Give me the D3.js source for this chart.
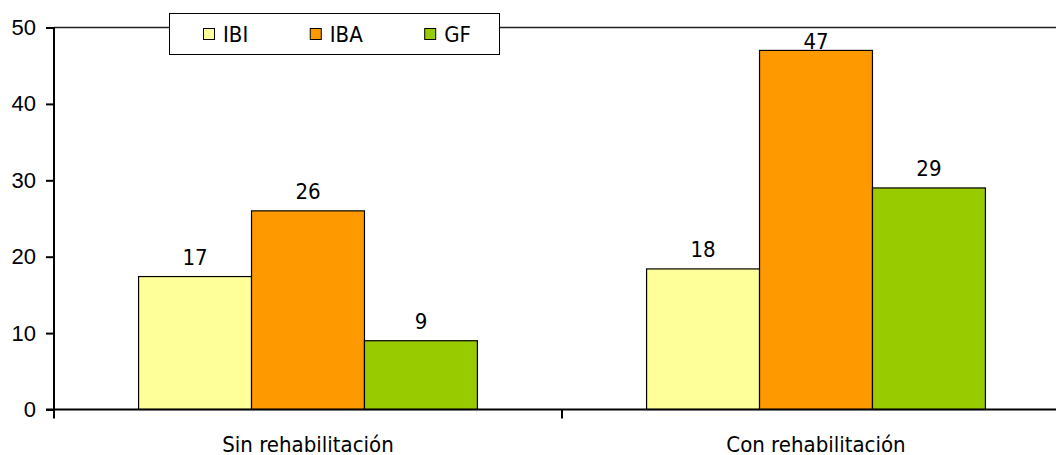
<!DOCTYPE html>
<html>
<head>
<meta charset="utf-8">
<script src="https://cdn.jsdelivr.net/npm/d3@7"></script>
<style>
  html, body { margin: 0; padding: 0; background: #fff; }
  svg { display: block; font-family: "DejaVu Sans Condensed", "DejaVu Sans", sans-serif; font-stretch: condensed; }
</style>
</head>
<body>
<svg id="chart" width="1056" height="455"></svg>
<script>
// Grouped bar data: two rehabilitation groups, three indices each
const categories = ["Sin rehabilitación", "Con rehabilitación"];
const seriesNames = ["IBI", "IBA", "GF"];
const seriesColors = ["#FFFF99", "#FF9900", "#99CC00"];
const valuesIBI = [17.4, 18.4];
const valuesIBA = [26, 47];
const valuesGF = [9, 29];
const yTicks = [0, 10, 20, 30, 40, 50];

const seriesValues = [valuesIBI, valuesIBA, valuesGF];
const rows = categories.map((c, i) => ({
  category: c,
  bars: seriesNames.map((s, j) => ({ series: s, value: seriesValues[j][i], color: seriesColors[j] }))
}));

const svg = d3.select("#chart");
const fontSize = 22;

const plotLeft = 54, plotRight = 1070, plotTop = 27.5, plotBottom = 409.5;

const y = d3.scaleLinear().domain([0, 50]).range([plotBottom, plotTop]);
const x0 = d3.scaleBand().domain(categories).range([plotLeft, plotRight]).paddingInner(0).paddingOuter(0);
const groupW = x0.bandwidth() * 0.667;
const gap = (x0.bandwidth() - groupW) / 2;
const x1 = d3.scaleBand().domain(seriesNames).range([gap, gap + groupW]).padding(0);

// top border of the plot area
svg.append("line")
  .attr("x1", plotLeft).attr("x2", 1056)
  .attr("y1", plotTop).attr("y2", plotTop)
  .attr("stroke", "#222").attr("stroke-width", 1.3);

// bars
const groups = svg.append("g").selectAll("g")
  .data(rows).join("g")
  .attr("transform", d => `translate(${x0(d.category)},0)`);

groups.selectAll("rect")
  .data(d => d.bars).join("rect")
  .attr("x", d => x1(d.series))
  .attr("width", x1.bandwidth())
  .attr("y", d => y(d.value))
  .attr("height", d => y(0) - y(d.value))
  .attr("fill", d => d.color)
  .attr("stroke", "#000").attr("stroke-width", 1.2);

// value labels, kept inside the plot area
const fmt = d3.format(".0f");
groups.selectAll("text")
  .data(d => d.bars).join("text")
  .attr("x", d => x1(d.series) + x1.bandwidth() / 2)
  .attr("y", d => Math.max(y(d.value) - 12, plotTop + 21.5))
  .attr("text-anchor", "middle")
  .attr("font-size", fontSize)
  .attr("fill", "#000")
  .text(d => fmt(d.value));

// y axis
const yAxis = d3.axisLeft(y).tickValues(yTicks).tickSize(8).tickPadding(10).tickFormat(d3.format("d"));
const gy = svg.append("g").attr("transform", `translate(${plotLeft},0)`).call(yAxis);
gy.select(".domain").attr("stroke", "#000").attr("stroke-width", 2)
  .attr("d", `M0,${plotTop}V${plotBottom + 9}`);
gy.selectAll(".tick line").attr("stroke", "#000").attr("stroke-width", 2);
gy.selectAll(".tick text").attr("font-size", fontSize).attr("font-family", null).attr("fill", "#000");

// x axis with ticks at group boundaries
const gx = svg.append("g").attr("transform", `translate(0,${plotBottom})`);
gx.append("line").attr("x1", plotLeft - 8).attr("x2", 1056).attr("y1", 0).attr("y2", 0)
  .attr("stroke", "#000").attr("stroke-width", 2);
gx.selectAll("line.bt").data(categories.slice(1)).join("line").attr("class", "bt")
  .attr("x1", d => x0(d)).attr("x2", d => x0(d))
  .attr("y1", 0).attr("y2", 9)
  .attr("stroke", "#000").attr("stroke-width", 2);
gx.selectAll("text").data(categories).join("text")
  .attr("x", d => x0(d) + x0.bandwidth() / 2)
  .attr("y", 42)
  .attr("text-anchor", "middle")
  .attr("font-size", fontSize)
  .attr("fill", "#000")
  .text(d => d);

// legend
const legend = svg.append("g");
legend.append("rect")
  .attr("x", 169.5).attr("y", 13.5).attr("width", 330).attr("height", 41)
  .attr("fill", "#fff").attr("stroke", "#000").attr("stroke-width", 1);
let lx = 203.5;
seriesNames.forEach((s, i) => {
  legend.append("rect")
    .attr("x", lx).attr("y", 28.5).attr("width", 11).attr("height", 11)
    .attr("fill", seriesColors[i]).attr("stroke", "#000").attr("stroke-width", 1);
  const t = legend.append("text")
    .attr("x", lx + 19.5).attr("y", 41.5)
    .attr("font-size", fontSize).attr("fill", "#000")
    .text(s);
  lx = lx + 19.5 + t.node().getComputedTextLength() + 62;
});
</script>
</body>
</html>
